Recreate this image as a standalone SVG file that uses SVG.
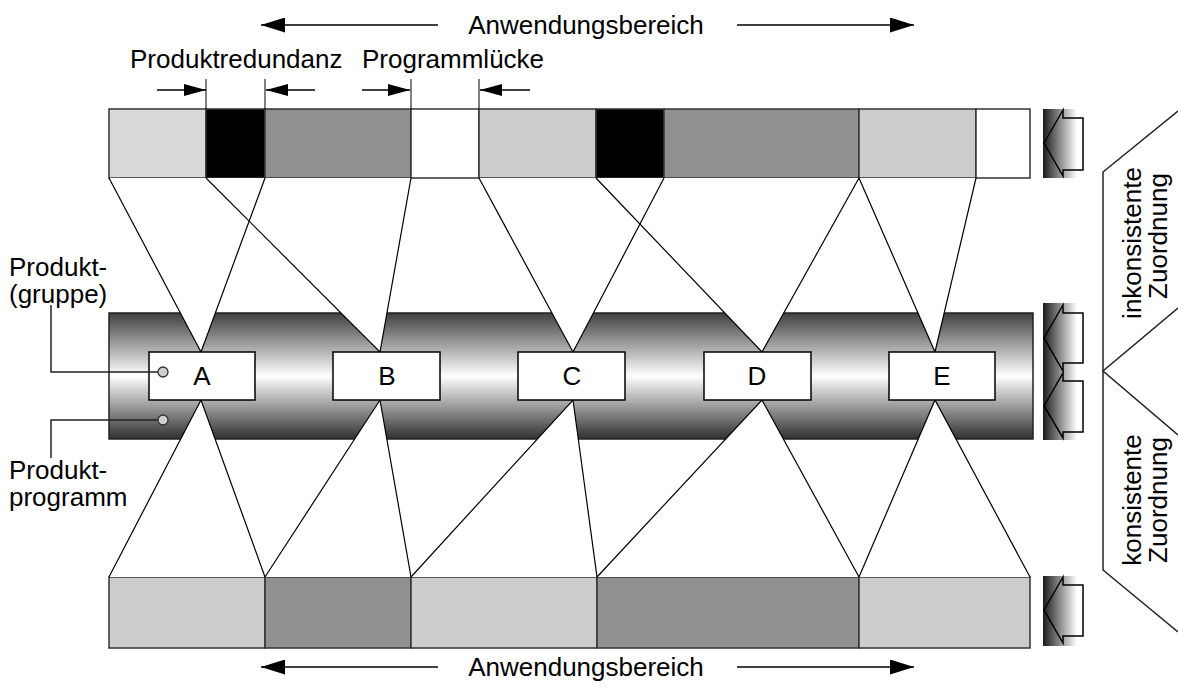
<svg xmlns="http://www.w3.org/2000/svg" width="1178" height="688" viewBox="0 0 1178 688">
<style>
text{font-family:"Liberation Sans",Arial,Helvetica,sans-serif;fill:#000}
.lbl{font-size:26px}
.seg{stroke:#333;stroke-width:1.5}
.ln{stroke:#000;stroke-width:1.2;fill:none}
.box{fill:#fff;stroke:#000;stroke-width:1.5}
.ico{fill:url(#ig)}
.arr{fill:none;stroke:#000;stroke-width:1.5}
.dot{fill:#cfcfcf;stroke:#333;stroke-width:1.3}
.lead{stroke:#222;stroke-width:1.5;fill:none}
</style>
<defs>
<linearGradient id="bar" x1="0" y1="0" x2="0" y2="1">
<stop offset="0" stop-color="#404040"/>
<stop offset="0.5" stop-color="#ffffff"/>
<stop offset="1" stop-color="#303030"/>
</linearGradient>
<linearGradient id="ig" x1="0" y1="0" x2="1" y2="0">
<stop offset="0" stop-color="#1a1a1a"/>
<stop offset="0.85" stop-color="#ffffff"/>
</linearGradient>
<marker id="ah" viewBox="0 0 22 12" refX="22" refY="6" markerWidth="22" markerHeight="12" markerUnits="userSpaceOnUse" orient="auto">
<path d="M0,0 L22,6 L0,12 z" fill="#000"/>
</marker>
<marker id="ahb" viewBox="0 0 24 15" refX="24" refY="7.5" markerWidth="24" markerHeight="15" markerUnits="userSpaceOnUse" orient="auto">
<path d="M0,0 L24,7.5 L0,15 z" fill="#000"/>
</marker>
</defs>

<g id="top-bar">
<rect class="seg" x="109" y="109" width="97" height="69" fill="#d9d9d9"/>
<rect class="seg" x="206" y="109" width="59" height="69" fill="#000"/>
<rect class="seg" x="265" y="109" width="146" height="69" fill="#909090"/>
<rect class="seg" x="411" y="109" width="68" height="69" fill="#fff"/>
<rect class="seg" x="479" y="109" width="117" height="69" fill="#cccccc"/>
<rect class="seg" x="596" y="109" width="68" height="69" fill="#000"/>
<rect class="seg" x="664" y="109" width="195" height="69" fill="#909090"/>
<rect class="seg" x="859" y="109" width="117" height="69" fill="#cccccc"/>
<rect class="seg" x="976" y="109" width="54" height="69" fill="#fff"/>
</g>

<g id="bottom-bar">
<rect class="seg" x="109" y="577" width="156" height="71" fill="#cccccc"/>
<rect class="seg" x="265" y="577" width="146" height="71" fill="#909090"/>
<rect class="seg" x="411" y="577" width="186" height="71" fill="#cccccc"/>
<rect class="seg" x="597" y="577" width="262" height="71" fill="#909090"/>
<rect class="seg" x="859" y="577" width="171" height="71" fill="#cccccc"/>
</g>

<g id="middle-bar">
<rect x="109" y="313" width="924" height="126" fill="url(#bar)" stroke="#222" stroke-width="1.5"/>
</g>

<g id="connectors">
<g fill="#fff" stroke="none">
<polygon points="109,178 265,178 201,352"/>
<polygon points="206,178 411,178 380,352"/>
<polygon points="479,178 664,178 573,352"/>
<polygon points="596,178 859,178 762,352"/>
<polygon points="859,178 976,178 935,352"/>
<polygon points="201,400 109,577 265,577"/>
<polygon points="380,400 265,577 411,577"/>
<polygon points="573,400 411,577 597,577"/>
<polygon points="762,400 597,577 859,577"/>
<polygon points="935,400 859,577 1030,577"/>
</g>
<g class="ln">
<polyline points="109,178 201,352 265,178"/>
<polyline points="206,178 380,352 411,178"/>
<polyline points="479,178 573,352 664,178"/>
<polyline points="596,178 762,352 859,178"/>
<polyline points="859,178 935,352 976,178"/>
<polyline points="109,577 201,400 265,577"/>
<polyline points="265,577 380,400 411,577"/>
<polyline points="411,577 573,400 597,577"/>
<polyline points="597,577 762,400 859,577"/>
<polyline points="859,577 935,400 1030,577"/>
</g>
</g>

<g id="node-A"><rect class="box" x="149" y="352" width="106" height="48"/><text class="lbl" x="202" y="385" text-anchor="middle">A</text></g>
<g id="node-B"><rect class="box" x="333" y="352" width="107" height="48"/><text class="lbl" x="387" y="385" text-anchor="middle">B</text></g>
<g id="node-C"><rect class="box" x="518" y="352" width="107" height="48"/><text class="lbl" x="572" y="385" text-anchor="middle">C</text></g>
<g id="node-D"><rect class="box" x="704" y="352" width="107" height="48"/><text class="lbl" x="757" y="385" text-anchor="middle">D</text></g>
<g id="node-E"><rect class="box" x="889" y="352" width="106" height="48"/><text class="lbl" x="942" y="385" text-anchor="middle">E</text></g>

<g id="range-arrows">
<line x1="438" y1="25" x2="261" y2="25" stroke="#000" stroke-width="1.5" marker-end="url(#ahb)"/>
<line x1="737" y1="25" x2="914" y2="25" stroke="#000" stroke-width="1.5" marker-end="url(#ahb)"/>
<text class="lbl" x="586" y="34" text-anchor="middle">Anwendungsbereich</text>
<line x1="438" y1="667" x2="261" y2="667" stroke="#000" stroke-width="1.5" marker-end="url(#ahb)"/>
<line x1="737" y1="667" x2="914" y2="667" stroke="#000" stroke-width="1.5" marker-end="url(#ahb)"/>
<text class="lbl" x="586" y="676" text-anchor="middle">Anwendungsbereich</text>
</g>

<g id="gap-labels">
<text class="lbl" x="130" y="68">Produktredundanz</text>
<text class="lbl" x="362" y="68">Programmlücke</text>
<g stroke="#000" stroke-width="1.5">
<line x1="157" y1="90" x2="206" y2="90" marker-end="url(#ah)"/>
<line x1="315" y1="90" x2="266" y2="90" marker-end="url(#ah)"/>
<line x1="362" y1="90" x2="410" y2="90" marker-end="url(#ah)"/>
<line x1="530" y1="90" x2="480" y2="90" marker-end="url(#ah)"/>
<line x1="206" y1="79" x2="206" y2="109" stroke-width="1"/>
<line x1="265" y1="79" x2="265" y2="109" stroke-width="1"/>
<line x1="411" y1="79" x2="411" y2="109" stroke-width="1"/>
<line x1="479" y1="79" x2="479" y2="109" stroke-width="1"/>
</g>
</g>

<g id="legend-left">
<text class="lbl" x="9" y="276">Produkt-</text>
<text class="lbl" x="9" y="303">(gruppe)</text>
<text class="lbl" x="9" y="479">Produkt-</text>
<text class="lbl" x="9" y="506">programm</text>
<polyline class="lead" points="51,305 51,372 158,372"/>
<polyline class="lead" points="51,458 51,420 158,420"/>
<circle class="dot" cx="163" cy="372" r="5"/>
<circle class="dot" cx="163" cy="420" r="5"/>
</g>

<g id="icons">
<rect class="ico" x="1043" y="109" width="40" height="69"/>
<polygon class="arr" points="1044,143 1063,110 1063,118 1083,118 1083,170 1063,170 1063,176"/>
<rect class="ico" x="1043" y="303" width="40" height="137"/>
<polygon class="arr" points="1044,338 1063,305 1063,313 1083,313 1083,363 1063,363 1063,371"/>
<polygon class="arr" points="1044,406 1063,373 1063,381 1083,381 1083,432 1063,432 1063,438"/>
<rect class="ico" x="1043" y="576" width="40" height="70"/>
<polygon class="arr" points="1044,610 1063,577 1063,585 1083,585 1083,636 1063,636 1063,643"/>
</g>

<g id="bracket">
<polyline class="lead" stroke="#000" points="1178,111 1103,172 1103,570 1178,632"/>
<polyline class="lead" stroke="#000" points="1178,308 1103,371 1178,435"/>
<text class="lbl" transform="translate(1141,243) rotate(-90)" text-anchor="middle">inkonsistente</text>
<text class="lbl" transform="translate(1167,236) rotate(-90)" text-anchor="middle">Zuordnung</text>
<text class="lbl" transform="translate(1141,500) rotate(-90)" text-anchor="middle">konsistente</text>
<text class="lbl" transform="translate(1167,500) rotate(-90)" text-anchor="middle">Zuordnung</text>
</g>
</svg>
